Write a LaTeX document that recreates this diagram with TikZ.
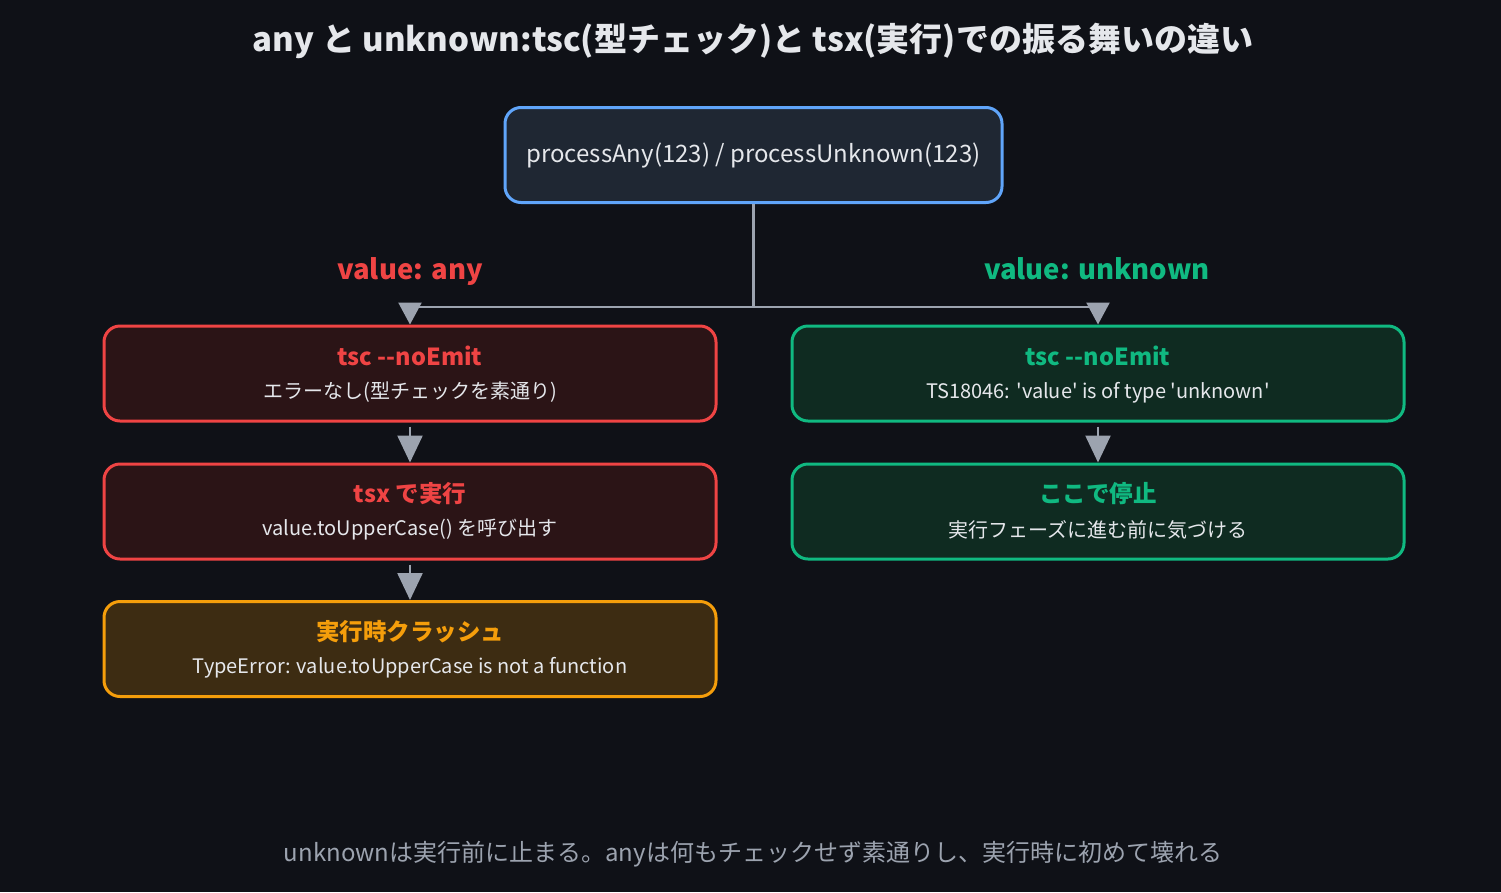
\documentclass[tikz,border=0pt]{standalone}
\usepackage{fontspec}
\setmainfont{Noto Sans CJK JP}[Ligatures=TeXOff]
\usetikzlibrary{arrows.meta}
\definecolor{bg}{HTML}{0F1117}
\definecolor{topfill}{HTML}{1F2733}
\definecolor{topdraw}{HTML}{60A5FA}
\definecolor{redd}{HTML}{EF4444}
\definecolor{redf}{HTML}{2B1416}
\definecolor{grnd}{HTML}{10B981}
\definecolor{grnf}{HTML}{0F2B21}
\definecolor{orgd}{HTML}{F59E0B}
\definecolor{orgf}{HTML}{3D2C12}
\definecolor{txt}{HTML}{E5E7EB}
\definecolor{foot}{HTML}{9CA3AF}
\definecolor{conn}{HTML}{9CA3AF}
\tikzset{
  box/.style={rectangle, rounded corners=16pt, line width=3pt, minimum width=612pt, minimum height=95pt, inner sep=0pt},
  redbox/.style={box, draw=redd, fill=redf},
  grnbox/.style={box, draw=grnd, fill=grnf},
  orgbox/.style={box, draw=orgd, fill=orgf},
  ttl/.style={font=\bfseries\fontsize{23.5}{27}\selectfont, inner sep=0pt},
  sub/.style={font=\fontsize{20}{24}\selectfont, text=txt, inner sep=0pt},
  lab/.style={font=\bfseries\fontsize{27.5}{32}\selectfont, text height=20pt, text depth=0pt, inner sep=0pt},
  conline/.style={draw=conn, line width=2.5pt},
  arr/.style={conline, -{Triangle[width=25pt,length=27pt]}},
  arrtop/.style={conline, -{Triangle[width=23pt,length=22pt]}},
}
\begin{document}
\begin{tikzpicture}[x=1pt,y=-1pt]
\fill[bg] (0,0) rectangle (1501,892);
\useasboundingbox (0,0) rectangle (1501,892);

\node[font=\bfseries\fontsize{33}{38}\selectfont, text=txt] (title) at (753,41) {any と unknown:tsc(型チェック)と tsx(実行)での振る舞いの違い};

\node[box, minimum width=497pt, draw=topdraw, fill=topfill, font=\fontsize{24}{28}\selectfont, text=txt] (top) at (753.5,155) {processAny(123) / processUnknown(123)};

\node[lab, text=redd] (lab1) at (410,269) {value: any};
\node[lab, text=grnd] (lab2) at (1097,269) {value: unknown};

% left column
\node[redbox] (l1) at (410,373.5) {};
\node[ttl, text=redd] (l1t) at ([yshift=17.5pt]l1.center) {tsc -{}-noEmit};
\node[sub] (l1s) at ([yshift=-19pt]l1.center) {エラーなし(型チェックを素通り)};

\node[redbox] (l2) at (410,511.5) {};
\node[ttl, text=redd] (l2t) at ([yshift=17.5pt]l2.center) {tsx で実行};
\node[sub] (l2s) at ([yshift=-18pt]l2.center) {value.toUpperCase() を呼び出す};

\node[orgbox] (l3) at (410,649) {};
\node[ttl, text=orgd] (l3t) at ([yshift=17.5pt]l3.center) {実行時クラッシュ};
\node[sub] (l3s) at ([yshift=-18.5pt]l3.center) {TypeError: value.toUpperCase is not a function};

% right column
\node[grnbox] (r1) at (1098,373.5) {};
\node[ttl, text=grnd] (r1t) at ([yshift=17.5pt]r1.center) {tsc -{}-noEmit};
\node[sub] (r1s) at ([yshift=-19pt]r1.center) {TS18046: 'value' is of type 'unknown'};

\node[grnbox] (r2) at (1098,511.5) {};
\node[ttl, text=grnd] (r2t) at ([yshift=17.5pt]r2.center) {ここで停止};
\node[sub] (r2s) at ([yshift=-18pt]r2.center) {実行フェーズに進む前に気づける};

% connectors
\coordinate (junc) at (753.5,307);
\draw[conline] (top.south) -- (junc);
\draw[arrtop] (junc) -| (l1.north);
\draw[arrtop] (junc) -| (r1.north);
\draw[arr, shorten <=4pt] (l1.south) -- (l2.north);
\draw[arr, shorten <=4pt] (l2.south) -- (l3.north);
\draw[arr, shorten <=4pt] (r1.south) -- (r2.north);

\node[font=\fontsize{24}{28}\selectfont, text=foot] (footer) at (753,854.5) {unknownは実行前に止まる。anyは何もチェックせず素通りし、実行時に初めて壊れる};
\end{tikzpicture}
\end{document}
